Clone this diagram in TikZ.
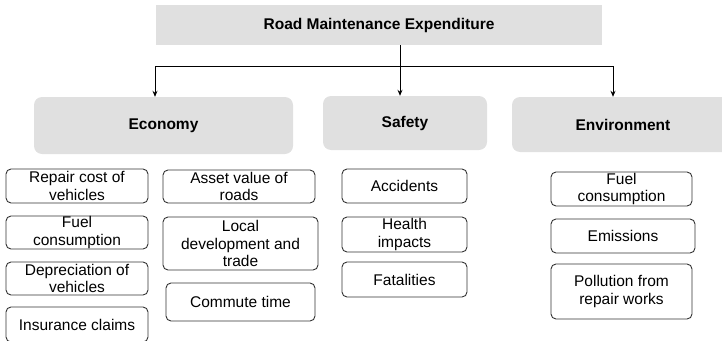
\documentclass[tikz,border=0pt]{standalone}
\usepackage{fontspec}
\setmainfont{Liberation Sans}
\usetikzlibrary{arrows.meta}
\definecolor{hd}{HTML}{E0E0E0}
\definecolor{bd}{HTML}{333333}
\tikzset{
  head/.style={fill=hd, draw=none, inner sep=0pt, font=\fontsize{15.5}{17.5}\selectfont\bfseries, align=center},
  item/.style={draw=bd, line width=0.9pt, rounded corners=5pt, inner sep=0pt, align=center, font=\fontsize{15.5}{17.5}\selectfont},
  arr/.style={draw=black, line width=0.9pt, -{Stealth[length=6pt,width=5pt]}},
  conn/.style={draw=black, line width=0.9pt}
}
\begin{document}
\begin{tikzpicture}[x=1pt,y=-1pt]
\useasboundingbox (0,0) rectangle (722,340);
% headers
\node[head, minimum width=446pt, minimum height=40pt] (top) at (379,25) {Road Maintenance Expenditure};
\node[head, rounded corners=8pt, minimum width=259pt, minimum height=57pt] (eco) at (163.5,125.5) {Economy};
\node[head, rounded corners=8pt, minimum width=164pt, minimum height=54pt] (saf) at (405,123) {Safety};
\node[head, rounded corners=8pt, minimum width=222pt, minimum height=55pt] (env) at (623,124.5) {Environment};
% connectors
\coordinate (j) at (400,66);
\coordinate (jl) at (155,66);
\coordinate (jr) at (613,66);
\draw[arr] (top.south -| j) -- (j |- saf.north);
\draw[conn] (jl) -- (jr);
\draw[arr] (jl) -- (jl |- eco.north);
\draw[arr] (jr) -- (jr |- env.north);
% economy left column
\node[item, minimum width=142pt, minimum height=34pt] (rep) at (77,186) {Repair cost of\\vehicles};
\node[item, minimum width=142pt, minimum height=33pt] (fuel) at (77,232.5) {Fuel\\consumption};
\node[item, minimum width=142pt, minimum height=33pt] (dep) at (77,278.5) {Depreciation of\\vehicles};
\node[item, minimum width=142pt, minimum height=35pt] (ins) at (77,324.5) {Insurance claims};
% economy right column
\node[item, minimum width=152pt, minimum height=33pt] (asset) at (239,186.5) {Asset value of\\roads};
\node[item, minimum width=155pt, minimum height=53pt] (local) at (240.5,243.5) {Local\\development and\\trade};
\node[item, minimum width=149pt, minimum height=38pt] (comm) at (240.5,302) {Commute time};
% safety
\node[item, minimum width=125pt, minimum height=34pt] (acc) at (404.5,186) {Accidents};
\node[item, minimum width=125pt, minimum height=35pt] (health) at (404.5,234.5) {Health\\impacts};
\node[item, minimum width=125pt, minimum height=35pt] (fat) at (404.5,279.5) {Fatalities};
% environment
\node[item, minimum width=141pt, minimum height=34pt] (fuel2) at (621.5,189) {Fuel\\consumption};
\node[item, minimum width=144pt, minimum height=34pt] (emis) at (623,236) {Emissions};
\node[item, minimum width=141pt, minimum height=55pt] (poll) at (621.5,291.5) {Pollution from\\repair works};
\end{tikzpicture}
\end{document}
